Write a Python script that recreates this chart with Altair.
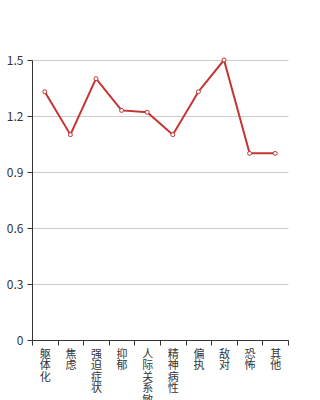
import altair as alt
import pandas as pd

categories = ["躯体化", "焦虑", "强迫症状", "抑郁", "人际关系敏感", "精神病性", "偏执", "敌对", "恐怖", "其他"]
values = [1.33, 1.10, 1.40, 1.23, 1.22, 1.10, 1.33, 1.50, 1.00, 1.00]
y_ticks = [0, 0.3, 0.6, 0.9, 1.2, 1.5]

df = pd.DataFrame({"cat": categories, "val": values})

FONT = "Noto Sans CJK SC"

x = alt.X("cat:N", sort=categories, title=None,
          scale=alt.Scale(type="band", paddingInner=0, paddingOuter=0),
          axis=alt.Axis(labelAngle=0, tickBand="extent", labelExpr="split(datum.label, '')",
                        labelBaseline="top", labelAlign="center", labelLineHeight=11.5,
                        labelFontSize=11, labelFont=FONT, labelColor="#333",
                        domainColor="#333", tickColor="#333", tickSize=5,
                        labelPadding=3, grid=False, labelOverlap=False))
y = alt.Y("val:Q", title=None,
          scale=alt.Scale(domain=[0, 1.5], nice=False, zero=True),
          axis=alt.Axis(values=y_ticks,
                        labelExpr="datum.value == 0 ? '0' : format(datum.value, '.1f')",
                        labelFontSize=12, labelFont=FONT, labelColor="#333",
                        domainColor="#333", tickColor="#333", tickSize=5, labelPadding=4,
                        grid=True, gridColor="#ccc"))

line = alt.Chart(df).mark_line(color="#c23531", strokeWidth=2).encode(x=x, y=y)
pts = alt.Chart(df).mark_point(shape="circle", size=16, filled=True, fill="white",
                               stroke="#c23531", strokeWidth=1, opacity=1).encode(x=x, y=y)

chart = (line + pts).properties(
    width=256, height=280,
    padding={"left": 32, "top": 60, "right": 32, "bottom": 60},
    autosize=alt.AutoSizeParams(type="none"),
).configure_view(stroke=None)

chart.save("out.html", embed_options={"renderer": "svg", "actions": False})
